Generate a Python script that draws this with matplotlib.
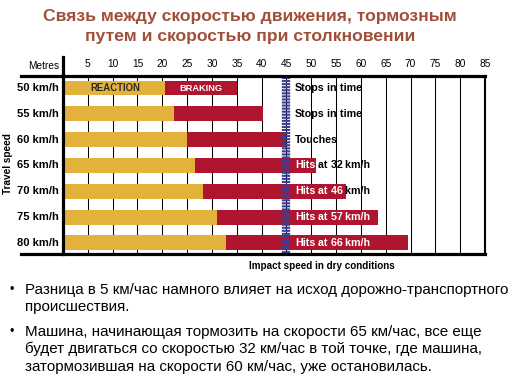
import matplotlib
matplotlib.use('Agg')
import matplotlib.pyplot as plt

plt.rcParams['font.family'] = ['Liberation Sans', 'DejaVu Sans']
plt.rcParams['lines.scale_dashes'] = False

speeds = ['50 km/h', '55 km/h', '60 km/h', '65 km/h', '70 km/h', '75 km/h', '80 km/h']
reaction = [20.5, 22.4, 24.9, 26.6, 28.2, 31.0, 32.8]
stopping = [35.0, 40.3, 45.0, 51.0, 57.0, 63.5, 69.5]
outcomes = ['Stops in time', 'Stops in time', 'Touches', 'Hits at 32 km/h',
            'Hits at 46 km/h', 'Hits at 57 km/h', 'Hits at 66 km/h']
ticks = list(range(5, 90, 5))
limit = 45

yellow = '#e3b23c'
red = '#b0152f'
navy = '#3b3d8e'
W, H = 515, 385

fig = plt.figure(figsize=(W / 100, H / 100), dpi=100)

def px(x, y):
    return x / W, 1 - y / H

# axes placed in pixel space: x 0..85 -> 63..485, top line 76, bottom line 254
ax = fig.add_axes([63 / W, 1 - 254 / H, (485 - 63) / W, (254 - 76) / H])
ax.set_xlim(0, 85)
ax.set_ylim(6.43, -0.465)
ax.axis('off')

rows = range(len(speeds))
braking = [s - r for s, r in zip(stopping, reaction)]
ax.barh(rows, reaction, height=0.58, color=yellow, zorder=2)
ax.barh(rows, braking, left=reaction, height=0.58, color=red, zorder=2)

# grid lines
for t in ticks:
    ax.plot([t, t], [-0.465, 6.43], color='black', lw=0.75, zorder=1)

# frame lines
ax.plot([-8.5, 85], [-0.465, -0.465], color='black', lw=2.3, clip_on=False, zorder=5)
ax.plot([-8.5, 85], [6.43, 6.43], color='black', lw=2.3, clip_on=False, zorder=5)
ax.plot([0, 0], [-1.2, 6.43], color='black', lw=2.3, clip_on=False, zorder=5)
ax.plot([85, 85], [-0.465, 6.43], color='black', lw=1.5, clip_on=False, zorder=5)

# 45 m line
ax.plot([limit, limit], [-0.44, 6.41], color=navy, lw=6,
        dashes=(1.5, 0.7), solid_capstyle='butt', dash_capstyle='butt', zorder=4)

# top tick labels
for t in ticks:
    ax.text(t, -0.93, str(t), ha='center', va='center', fontsize=7.3, clip_on=False)
fig.text(*px(59, 66), 'Metres', ha='right', va='center', fontsize=7.3)

for i, s in enumerate(speeds):
    ax.text(-0.8, i, s, ha='right', va='center', fontsize=8,
            fontweight='bold', clip_on=False)

ax.text(10.5, 0, 'REACTION', ha='center', va='center', fontsize=6.9,
        fontweight='bold', color='#2a2a2a', zorder=6)
ax.text(27.8, 0, 'BRAKING', ha='center', va='center', fontsize=6.7,
        fontweight='bold', color='white', zorder=6)

# outcome labels; words lying on the red bar are drawn white
renderer = fig.canvas.get_renderer()
inv = ax.transData.inverted()
for i, lab in enumerate(outcomes):
    prev = None
    for k, word in enumerate(lab.split(' ')):
        piece = word if k == 0 else ' ' + word
        if prev is None:
            t = ax.text(46.7, i, piece, ha='left', va='center', fontsize=7.7,
                        fontweight='bold', zorder=6)
        else:
            t = ax.annotate(piece, xy=(1, 0), xycoords=prev, ha='left',
                            va='bottom', fontsize=7.7, fontweight='bold', zorder=6)
        right = inv.transform(t.get_window_extent(renderer).get_points())[1, 0]
        t.set_color('white' if right <= stopping[i] + 0.6 else 'black')
        prev = t

fig.text(*px(8, 164), 'Travel speed', rotation=90, ha='center', va='center',
         fontsize=7.2, fontweight='bold')
fig.text(*px(322, 266), 'Impact speed in dry conditions', ha='center',
         va='center', fontsize=7.1, fontweight='bold')

# title
title_col = '#a0503a'
fig.text(*px(250, 17), 'Связь между скоростью движения, тормозным',
         ha='center', va='center', fontsize=12.6, fontweight='bold', color=title_col)
fig.text(*px(250, 36), 'путем и скоростью при столкновении',
         ha='center', va='center', fontsize=12.6, fontweight='bold', color=title_col)

# bullet notes
notes = [
    (290, 'Разница в 5 км/час намного влияет на исход дорожно-транспортного', True),
    (307, 'происшествия.', False),
    (332, 'Машина, начинающая тормозить на скорости 65 км/час, все еще', True),
    (349, 'будет двигаться со скоростью 32 км/час в той точке, где машина,', False),
    (367, 'затормозившая на скорости 60 км/час, уже остановилась.', False),
]
for y, line, bullet in notes:
    if bullet:
        fig.text(*px(9, y), '•', ha='left', va='center', fontsize=9)
    fig.text(*px(25, y), line, ha='left', va='center', fontsize=10.9)

fig.savefig('out.png', dpi=100)
